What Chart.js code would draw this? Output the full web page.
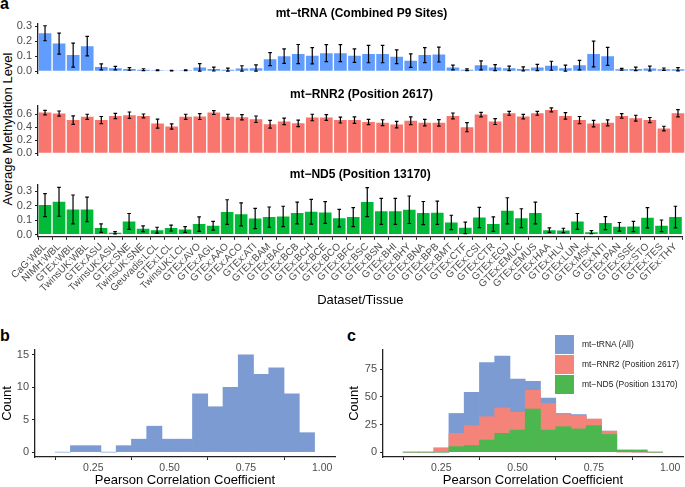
<!DOCTYPE html>
<html>
<head>
<meta charset="utf-8">
<script src="https://cdn.jsdelivr.net/npm/chart.js@4.4.1/dist/chart.umd.min.js"></script>
<style>
  body { margin: 0; background: #fff; font-family: 'Liberation Sans', Arial, sans-serif; }
  #page { position: relative; width: 685px; height: 487px; overflow: hidden; background: #fff; }
  .box { position: absolute; }
  .tag { position: absolute; font-weight: bold; font-size: 16px; line-height: 16px; color: #000; }
  #ytitle { position: absolute; left: 7px; top: 129px; transform: translate(-50%, -50%) rotate(-90deg);
            font-size: 13px; white-space: nowrap; color: #000; }
  #legend { position: absolute; left: 555px; top: 334px; font-size: 8.5px; color: #222; }
  #legend div { height: 20px; display: flex; align-items: center; }
  #legend span.key { width: 19px; height: 19px; margin-right: 8px; display: inline-block; }
</style>
</head>
<body>
<div id="page">
  <div class="tag" style="left:0px; top:-4px;">a</div>
  <div class="tag" style="left:0px; top:328px;">b</div>
  <div class="tag" style="left:347px; top:328px;">c</div>
  <div id="ytitle">Average Methylation Level</div>

  <div class="box" style="left:0; top:0; width:685px; height:83px;"><canvas id="trna"></canvas></div>
  <div class="box" style="left:0; top:80px; width:685px; height:85px;"><canvas id="rnr2"></canvas></div>
  <div class="box" style="left:0; top:160px; width:685px; height:147px;"><canvas id="nd5"></canvas></div>
  <div class="box" style="left:0; top:330px; width:340px; height:157px;"><canvas id="histB"></canvas></div>
  <div class="box" style="left:340px; top:330px; width:345px; height:157px;"><canvas id="histC"></canvas></div>

  <div id="legend">
    <div><span class="key" style="background:#7B9BD2"></span>mt−tRNA (All)</div>
    <div><span class="key" style="background:#F4847A"></span>mt−RNR2 (Position 2617)</div>
    <div><span class="key" style="background:#4DB74F"></span>mt−ND5 (Position 13170)</div>
  </div>
</div>
<script>
// Panel a data
const tissues = ['CaG:WBL', 'NIMH:WBL', 'GTEx:WBL', 'TwinsUK:WBL', 'GTEx:ASU', 'TwinsUK:ASU', 'GTEx:SNE',
  'TwinsUK:SNE', 'Geuvadis:LCL', 'GTEx:LCL', 'TwinsUK:LCL', 'GTEx:AVO', 'GTEx:AGL', 'GTEx:AAO', 'GTEx:ACO',
  'GTEx:ATI', 'GTEx:BAM', 'GTEx:BAC', 'GTEx:BCB', 'GTEx:BCH', 'GTEx:BCE', 'GTEx:BCO', 'GTEx:BFC', 'GTEx:BSC',
  'GTEx:BSN', 'GTEx:BHI', 'GTEx:BHY', 'GTEx:BNA', 'GTEx:BPB', 'GTEx:BMT', 'GTEx:CTF', 'GTEx:CSI', 'GTEx:CTR',
  'GTEx:EGJ', 'GTEx:EMUC', 'GTEx:EMUS', 'GTEx:HAA', 'GTEx:HLV', 'GTEx:LUN', 'GTEx:MSK', 'GTEx:NTI', 'GTEx:PAN',
  'GTEx:SSE', 'GTEx:STO', 'GTEx:TES', 'GTEx:THY'];

const trnaMean = [0.253, 0.184, 0.107, 0.167, 0.028, 0.020, 0.015, 0.010, 0.006, 0.004, 0.006, 0.025, 0.014,
  0.010, 0.018, 0.020, 0.080, 0.100, 0.114, 0.103, 0.120, 0.120, 0.103, 0.114, 0.114, 0.096, 0.070, 0.107,
  0.111, 0.024, 0.009, 0.039, 0.024, 0.019, 0.015, 0.024, 0.036, 0.019, 0.040, 0.114, 0.099, 0.013, 0.015,
  0.017, 0.013, 0.013];
const trnaErr = [0.050, 0.070, 0.080, 0.065, 0.020, 0.012, 0.009, 0.006, 0.003, 0.002, 0.003, 0.025, 0.013,
  0.010, 0.018, 0.022, 0.043, 0.048, 0.064, 0.054, 0.057, 0.057, 0.045, 0.058, 0.058, 0.046, 0.045, 0.050,
  0.050, 0.016, 0.006, 0.030, 0.020, 0.015, 0.013, 0.021, 0.030, 0.021, 0.032, 0.086, 0.060, 0.006, 0.012,
  0.016, 0.008, 0.011];

const rnr2Mean = [0.626, 0.610, 0.510, 0.560, 0.510, 0.574, 0.585, 0.574, 0.456, 0.410, 0.560, 0.564, 0.626,
  0.560, 0.554, 0.523, 0.446, 0.490, 0.460, 0.550, 0.550, 0.510, 0.510, 0.480, 0.470, 0.440, 0.500, 0.470,
  0.467, 0.574, 0.400, 0.595, 0.487, 0.615, 0.564, 0.615, 0.667, 0.574, 0.510, 0.456, 0.467, 0.574, 0.540,
  0.510, 0.380, 0.615];
const rnr2Err = [0.035, 0.040, 0.065, 0.040, 0.055, 0.040, 0.050, 0.030, 0.070, 0.040, 0.040, 0.045, 0.030,
  0.040, 0.040, 0.050, 0.060, 0.050, 0.050, 0.050, 0.045, 0.045, 0.050, 0.040, 0.045, 0.050, 0.060, 0.050,
  0.050, 0.045, 0.070, 0.035, 0.045, 0.030, 0.035, 0.030, 0.030, 0.050, 0.055, 0.050, 0.045, 0.035, 0.045,
  0.040, 0.035, 0.055];

const nd5Mean = [0.203, 0.226, 0.173, 0.173, 0.044, 0.012, 0.090, 0.040, 0.030, 0.044, 0.035, 0.072, 0.060,
  0.155, 0.139, 0.111, 0.120, 0.125, 0.148, 0.157, 0.152, 0.113, 0.120, 0.224, 0.160, 0.160, 0.171, 0.148,
  0.150, 0.083, 0.046, 0.118, 0.072, 0.164, 0.113, 0.148, 0.030, 0.028, 0.090, 0.016, 0.079, 0.053, 0.055,
  0.115, 0.060, 0.120];
const nd5Err = [0.080, 0.100, 0.100, 0.085, 0.030, 0.008, 0.055, 0.020, 0.020, 0.020, 0.020, 0.050, 0.030,
  0.085, 0.080, 0.070, 0.070, 0.070, 0.075, 0.085, 0.075, 0.060, 0.065, 0.100, 0.090, 0.090, 0.095, 0.080,
  0.080, 0.050, 0.040, 0.070, 0.050, 0.090, 0.065, 0.075, 0.015, 0.015, 0.055, 0.010, 0.045, 0.030, 0.035,
  0.070, 0.040, 0.075];

const trnaTicks = [0, 0.1, 0.2, 0.3];
const rnr2Ticks = [0, 0.2, 0.4, 0.6];
const nd5Ticks = [0, 0.1, 0.2, 0.3];

// Panels b and c data (histogram bins of width 0.05)
const binCenters = [0.15, 0.20, 0.25, 0.30, 0.35, 0.40, 0.45, 0.50, 0.55, 0.60, 0.65, 0.70, 0.75, 0.80,
  0.85, 0.90, 0.95];
const corrCounts = [0, 1, 1, 0, 1, 2, 4, 2, 2, 9, 7, 10, 15, 12, 13, 9, 3];
const trnaCounts = [0, 0, 0, 35, 54, 81, 87, 66, 64, 49, 35, 34, 29, 19, 1, 0, 0];
const rnr2Counts = [0, 0, 4, 17, 24, 32, 40, 36, 56, 44, 34, 33, 30, 19, 0, 0, 0];
const nd5Counts = [0, 0, 0, 5, 6, 11, 17, 20, 39, 20, 23, 21, 24, 16, 2, 2, 0];
const pearsonTicks = [0.25, 0.50, 0.75, 1.00];
const countTicksB = [0, 5, 10, 15];
const countTicksC = [0, 25, 50, 75];

Chart.defaults.font.family = "'Liberation Sans', Arial, sans-serif";
Chart.defaults.animation = false;
Chart.defaults.plugins.legend.display = false;
Chart.defaults.plugins.tooltip.enabled = false;

const axisColor = '#222';
const tickText = '#4D4D4D';

// Helper to fix the ticks of a scale to a given list
function fixedTicks(list) {
    return (scale) => {
        scale.ticks = list.map(v => ({ value: v }));
    };
}

// Plugin drawing the error bars from the y scale of the chart
const errorBars = {
    id: 'errorBars',
    afterDatasetsDraw(chart, args, opts) {
        if (!opts.values) return;
        const ctx = chart.ctx;
        const yScale = chart.scales.y;
        const meta = chart.getDatasetMeta(0);
        const means = chart.data.datasets[0].data;
        ctx.save();
        ctx.strokeStyle = '#000';
        ctx.lineWidth = 1.2;
        meta.data.forEach((bar, i) => {
            const top = yScale.getPixelForValue(means[i] + opts.values[i]);
            const bottom = yScale.getPixelForValue(Math.max(means[i] - opts.values[i], 0));
            ctx.beginPath();
            ctx.moveTo(bar.x, top);
            ctx.lineTo(bar.x, bottom);
            ctx.moveTo(bar.x - 1.8, top);
            ctx.lineTo(bar.x + 1.8, top);
            ctx.moveTo(bar.x - 1.8, bottom);
            ctx.lineTo(bar.x + 1.8, bottom);
            ctx.stroke();
        });
        ctx.restore();
    }
};

// Helper to build one facet of panel a
function makeFacet(id, title, color, means, errs, yMin, yMax, yTicks, titlePad, bottomPad, isBottom) {
    const xScale = isBottom ? {
        type: 'category',
        offset: true,
        grid: { display: true, drawOnChartArea: false, drawTicks: true, tickLength: 3, tickColor: axisColor },
        border: { display: true, color: axisColor, width: 1.3 },
        ticks: {
            autoSkip: false, maxRotation: 45, minRotation: 45, padding: 1,
            color: tickText, font: { size: 10 }
        },
        title: {
            display: true, text: 'Dataset/Tissue', color: '#000',
            font: { size: 13, lineHeight: 1 }, padding: { top: 0, bottom: 0 }
        },
        afterFit: (s) => { s.height = 70.2; }
    } : { type: 'category', offset: true, display: false };

    return new Chart(document.getElementById(id), {
        type: 'bar',
        data: {
            labels: tissues,
            datasets: [{
                data: means,
                backgroundColor: color,
                borderWidth: 0,
                barPercentage: 0.9,
                categoryPercentage: 1.0
            }]
        },
        options: {
            responsive: true,
            maintainAspectRatio: false,
            layout: { padding: { left: 0, right: 0, top: 0, bottom: bottomPad } },
            plugins: {
                title: {
                    display: true, text: title, color: '#000', fullSize: false,
                    font: { size: 12, weight: 'bold', lineHeight: 1.2 }, padding: titlePad
                },
                errorBars: { values: errs }
            },
            scales: {
                x: xScale,
                y: {
                    min: yMin, max: yMax,
                    afterBuildTicks: fixedTicks(yTicks),
                    afterFit: (s) => { s.width = 38; },
                    grid: { display: true, drawOnChartArea: false, drawTicks: true, tickLength: 3, tickColor: axisColor },
                    border: { display: true, color: axisColor, width: 1.3 },
                    ticks: { color: tickText, font: { size: 11 }, padding: 3, callback: (v) => v.toFixed(1) }
                }
            }
        },
        plugins: [errorBars]
    });
}

makeFacet('trna', 'mt−tRNA (Combined P9 Sites)', '#619CFF', trnaMean, trnaErr,
    -0.015, 0.318, trnaTicks, { top: 6.8, bottom: 2.3 }, 8, false);
makeFacet('rnr2', 'mt−RNR2 (Position 2617)', '#F8766D', rnr2Mean, rnr2Err,
    -0.035, 0.732, rnr2Ticks, { top: 7.8, bottom: 3.5 }, 8.5, false);
makeFacet('nd5', 'mt−ND5 (Position 13170)', '#00BA38', nd5Mean, nd5Err,
    -0.016, 0.342, nd5Ticks, { top: 7.8, bottom: 2.8 }, 0, true);

// Helper to build a histogram panel
function makeHist(id, datasets, yMax, yMin, yTicks, yWidth, titleLeftPad, rightPad) {
    return new Chart(document.getElementById(id), {
        type: 'bar',
        data: { datasets: datasets },
        options: {
            responsive: true,
            maintainAspectRatio: false,
            layout: { padding: { left: 0, right: rightPad, top: 20, bottom: 0 } },
            scales: {
                x: {
                    type: 'linear', min: 0.059, max: 1.042, offset: false,
                    afterBuildTicks: fixedTicks(pearsonTicks),
                    afterFit: (s) => { s.height = 30; },
                    grid: { display: true, drawOnChartArea: false, drawTicks: true, tickLength: 3, tickColor: axisColor },
                    border: { display: true, color: axisColor, width: 1.3 },
                    ticks: { color: tickText, font: { size: 10.5 }, padding: 2, maxRotation: 0, callback: (v) => v.toFixed(2) },
                    title: {
                        display: true, text: 'Pearson Correlation Coefficient', color: '#000',
                        font: { size: 13, lineHeight: 1 }, padding: { top: 0, bottom: 0 }
                    }
                },
                y: {
                    min: yMin, max: yMax,
                    afterBuildTicks: fixedTicks(yTicks),
                    afterFit: (s) => { s.width = yWidth; },
                    grid: { display: true, drawOnChartArea: false, drawTicks: true, tickLength: 3, tickColor: axisColor },
                    border: { display: true, color: axisColor, width: 1.3 },
                    ticks: { color: tickText, font: { size: 11 }, padding: 3 },
                    title: {
                        display: true, text: 'Count', color: '#000',
                        font: { size: 13, lineHeight: 1 }, padding: { top: titleLeftPad, bottom: 0 }
                    }
                }
            }
        }
    });
}

function histSet(counts, color) {
    return {
        data: binCenters.map((x, i) => ({ x: x, y: counts[i] })),
        backgroundColor: color,
        borderWidth: 0,
        grouped: false,
        barPercentage: 1.0,
        categoryPercentage: 1.0
    };
}

makeHist('histB', [histSet(corrCounts, '#7B9BD2')], 15.75, -0.75, countTicksB, 35, 0.5, 5);

// first dataset is drawn on top
makeHist('histC', [
    histSet(nd5Counts, '#4DB74F'),
    histSet(rnr2Counts, '#F4847A'),
    histSet(trnaCounts, '#7B9BD2')
], 92.4, -4.4, countTicksC, 43, 7.5, 2);
</script>
</body>
</html>
